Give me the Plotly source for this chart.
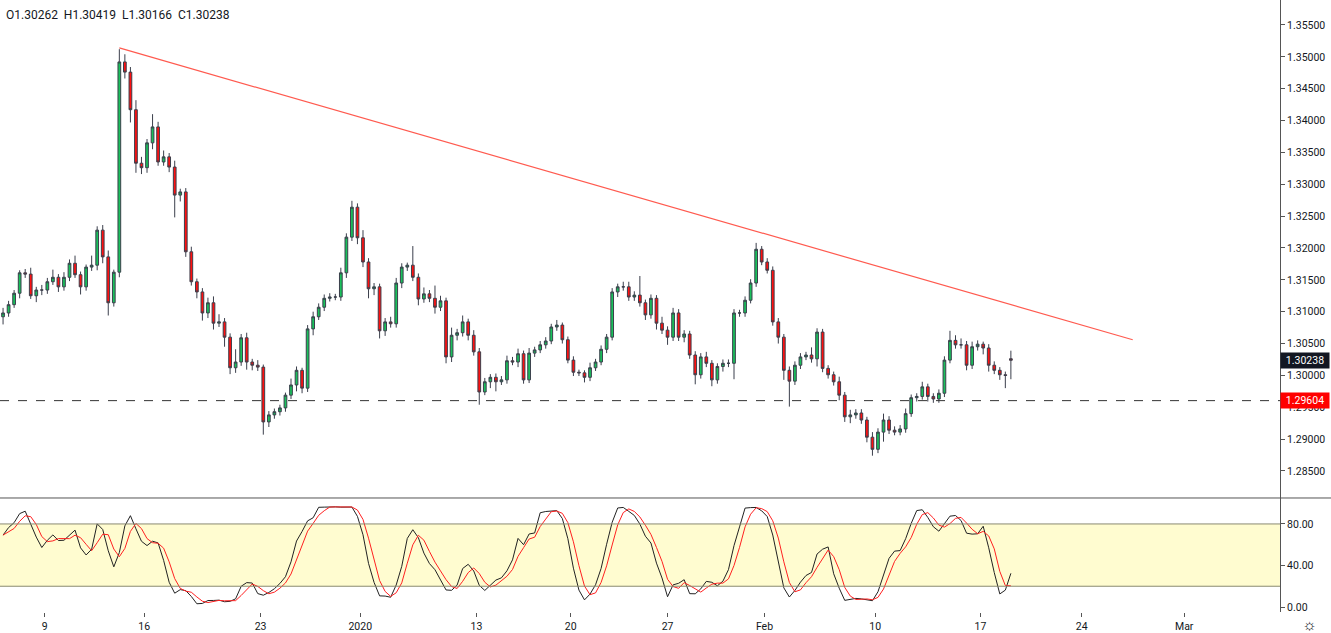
import numpy as np
import pandas as pd
import plotly.graph_objects as go

# 8h-ish candles
closes = [1.3098, 1.3111, 1.3129, 1.3161, 1.3159, 1.3125, 1.3134, 1.3134, 1.3147, 1.3154,
          1.3139, 1.3154, 1.3176, 1.3158, 1.3139, 1.3170, 1.3173, 1.3228, 1.3186, 1.3114,
          1.3162, 1.3492, 1.3476, 1.3417, 1.3333, 1.3326, 1.3365, 1.3390, 1.3335, 1.3343,
          1.3327, 1.3283, 1.3288, 1.3194, 1.3147, 1.3131, 1.3098, 1.3114, 1.3082, 1.3084,
          1.3060, 1.3012, 1.3021, 1.3059, 1.3021, 1.3016, 1.3013, 1.2927, 1.2938, 1.2943,
          1.2949, 1.2969, 1.2985, 1.3008, 1.2980, 1.3073, 1.3092, 1.3107, 1.3121, 1.3123,
          1.3123, 1.3161, 1.3217, 1.3264, 1.3216, 1.3178, 1.3136, 1.3139, 1.3070, 1.3084,
          1.3081, 1.3145, 1.3170, 1.3173, 1.3154, 1.3120, 1.3128, 1.3121, 1.3107, 1.3117,
          1.3029, 1.3063, 1.3067, 1.3084, 1.3063, 1.3037, 1.2974, 1.2990, 1.2997, 1.2990,
          1.2993, 1.3023, 1.3021, 1.3034, 1.2993, 1.3035, 1.3040, 1.3048, 1.3054, 1.3076,
          1.3079, 1.3056, 1.3024, 1.3005, 1.3004, 1.2997, 1.3012, 1.3021, 1.3041, 1.3060,
          1.3131, 1.3139, 1.3139, 1.3123, 1.3126, 1.3114, 1.3095, 1.3121, 1.3082, 1.3071,
          1.3060, 1.3098, 1.3060, 1.3065, 1.3032, 1.3001, 1.3029, 1.3019, 1.2993, 1.3014,
          1.3019, 1.3019, 1.3098, 1.3098, 1.3118, 1.3145, 1.3198, 1.3178, 1.3165, 1.3084,
          1.3060, 1.3008, 1.2991, 1.3016, 1.3029, 1.3032, 1.3026, 1.3068, 1.3011, 1.3001,
          1.2990, 1.2969, 1.2935, 1.2938, 1.2941, 1.2930, 1.2903, 1.2884, 1.2911, 1.2930,
          1.2914, 1.2911, 1.2916, 1.2940, 1.2965, 1.2967, 1.2982, 1.2967, 1.2963, 1.2972,
          1.3024, 1.3055, 1.3048, 1.3048, 1.3016, 1.3045, 1.3049, 1.3043, 1.3016, 1.3008,
          1.3001, 1.3000, 1.30238]

upper_wick_pips = [8, 6, 5, 4, 6, 10, 5, 8, 6, 12,
                   5, 8, 6, 12, 5, 4, 15, 6, 8, 10,
                   4, 20, 12, 8, 15, 10, 6, 20, 8, 10,
                   6, 10, 5, 6, 8, 5, 6, 8, 10, 12,
                   6, 6, 20, 6, 8, 5, 8, 4, 6, 5,
                   5, 4, 10, 6, 4, 6, 8, 6, 6, 6,
                   5, 8, 6, 10, 6, 12, 6, 6, 5, 6,
                   8, 8, 6, 4, 30, 6, 10, 6, 20, 8,
                   5, 12, 6, 10, 5, 8, 6, 6, 5, 6,
                   6, 8, 6, 8, 5, 8, 5, 6, 6, 5,
                   8, 4, 5, 6, 4, 4, 8, 5, 6, 5,
                   6, 5, 8, 8, 6, 30, 5, 6, 5, 10,
                   6, 8, 6, 6, 5, 6, 6, 8, 5, 5,
                   6, 6, 6, 5, 6, 6, 10, 5, 6, 6,
                   6, 5, 6, 6, 6, 5, 12, 6, 5, 5,
                   5, 8, 5, 8, 6, 6, 5, 8, 6, 10,
                   6, 6, 6, 8, 5, 5, 8, 5, 5, 6,
                   6, 15, 8, 10, 6, 8, 6, 4, 6, 6,
                   5, 5, 15]

lower_wick_pips = [12, 6, 5, 8, 6, 5, 10, 8, 6, 5,
                   8, 6, 6, 5, 12, 6, 6, 8, 10, 20,
                   6, 8, 10, 20, 15, 10, 8, 10, 6, 6,
                   8, 35, 10, 8, 6, 10, 12, 8, 10, 6,
                   15, 10, 8, 6, 12, 8, 6, 20, 8, 6,
                   6, 6, 6, 10, 8, 6, 10, 5, 6, 5,
                   5, 6, 8, 6, 10, 8, 15, 10, 12, 8,
                   6, 6, 8, 6, 6, 10, 6, 6, 10, 6,
                   10, 8, 8, 6, 8, 6, 20, 5, 10, 15,
                   5, 6, 5, 8, 6, 5, 6, 5, 6, 5,
                   6, 6, 5, 6, 5, 8, 6, 5, 5, 6,
                   5, 8, 6, 6, 6, 6, 8, 6, 10, 6,
                   12, 6, 6, 8, 6, 15, 6, 6, 10, 6,
                   8, 6, 25, 6, 6, 5, 6, 5, 5, 6,
                   10, 15, 40, 6, 6, 5, 6, 12, 6, 6,
                   6, 8, 8, 10, 6, 6, 8, 10, 6, 15,
                   6, 5, 5, 6, 5, 6, 5, 8, 6, 6,
                   6, 5, 6, 6, 8, 6, 6, 10, 10, 6,
                   8, 20, 6]

tick_labels = ["9", "16", "23", "2020", "13", "20", "27", "Feb", "10", "17", "24", "Mar"]
tick_index = [7.5, 25.5, 46.5, 64.5, 85.5, 102.5, 120, 137.5, 157.5, 176.5, 194.8, 213.3]
price_ticks = [1.285 + 0.005 * i for i in range(15)]

trend_x = [21, 204]
trend_y = [1.3514, 1.3056]
support_level = 1.29604
last_price = 1.30238

n = len(closes)
idx = np.arange(n)
c = np.array(closes)
o = np.concatenate([[1.3092], c[:-1]])
h = np.maximum(o, c) + np.array(upper_wick_pips[:n]) / 10000
l = np.minimum(o, c) - np.array(lower_wick_pips[:n]) / 10000
o[-1] = 1.30262

# stochastic 8,3,3 (coarser bars than the original)
df = pd.DataFrame({"h": h, "l": l, "c": c})
hh = df["h"].rolling(8, min_periods=1).max()
ll = df["l"].rolling(8, min_periods=1).min()
raw = 100 * (df["c"] - ll) / (hh - ll)
k = raw.rolling(3, min_periods=1).mean()
d = k.rolling(3, min_periods=1).mean()

fig = go.Figure()
fig.add_trace(go.Candlestick(
    x=idx, open=o, high=h, low=l, close=c,
    increasing=dict(line=dict(color="#3b3f4c", width=1), fillcolor="#19c15b"),
    decreasing=dict(line=dict(color="#3b3f4c", width=1), fillcolor="#ff1010"),
    whiskerwidth=0, showlegend=False, hoverinfo="skip"))
fig.add_trace(go.Scatter(x=trend_x, y=trend_y, mode="lines",
                         line=dict(color="#ff5a4f", width=1.2), showlegend=False))

# stochastic band
fig.add_shape(type="rect", xref="x2 domain", yref="y2", x0=0, x1=1, y0=20, y1=80,
              fillcolor="rgba(255,250,170,0.55)", line=dict(width=0), layer="below")
for lvl in [20, 80]:
    fig.add_shape(type="line", xref="x2 domain", yref="y2", x0=0, x1=1, y0=lvl, y1=lvl,
                  line=dict(color="#8a8a70", width=1))
fig.add_trace(go.Scatter(x=idx, y=k, xaxis="x2", yaxis="y2", mode="lines",
                         line=dict(color="#222222", width=1), showlegend=False))
fig.add_trace(go.Scatter(x=idx, y=d, xaxis="x2", yaxis="y2", mode="lines",
                         line=dict(color="#ff2020", width=1), showlegend=False))

fig.add_shape(type="line", xref="x domain", yref="y", x0=0, x1=1,
              y0=support_level, y1=support_level,
              line=dict(color="#333333", width=1, dash="dash"))
# panel separator
fig.add_shape(type="line", xref="paper", yref="paper", x0=0, x1=1.04, y0=0.1863, y1=0.1863,
              line=dict(color="#555555", width=1))

fig.add_annotation(xref="paper", yref="y", x=1.0, y=last_price, xanchor="left",
                   text="1.30238", showarrow=False, bgcolor="#131722", width=46,
                   font=dict(color="white", size=10.5), borderpad=1)
fig.add_annotation(xref="paper", yref="y", x=1.0, y=support_level, xanchor="left",
                   text="1.29604", showarrow=False, bgcolor="#ff0000", width=46,
                   font=dict(color="white", size=10.5), borderpad=1)
fig.add_annotation(xref="paper", yref="paper", x=0.003, y=1.0, xanchor="left", yanchor="top",
                   yshift=-6, text="O1.30262  H1.30419  L1.30166  C1.30238", showarrow=False,
                   font=dict(color="#131722", size=12))
fig.add_annotation(xref="paper", yref="paper", x=1.016, y=0.0, xanchor="left", yanchor="top",
                   yshift=-1, text="☼", showarrow=False, font=dict(color="#131722", size=16))

xr = [-0.55, 230.6]
fig.update_layout(
    width=1331, height=633,
    margin=dict(l=0, r=51, t=0, b=21, autoexpand=False),
    paper_bgcolor="white", plot_bgcolor="white",
    font=dict(family="Roboto", color="#131722", size=10.5),
    xaxis=dict(range=xr, domain=[0, 1], anchor="y", showticklabels=False,
               showgrid=False, zeroline=False, rangeslider=dict(visible=False)),
    yaxis=dict(domain=[0.1863, 1], side="right", range=[1.28076, 1.35892],
               tickvals=price_ticks, ticktext=[f"{p:.5f}" for p in price_ticks],
               showgrid=False, zeroline=False, showline=True, linecolor="#555555",
               ticks="outside", ticklen=4, tickcolor="#555555", automargin=False),
    xaxis2=dict(range=xr, domain=[0, 1], anchor="y2", tickvals=tick_index,
                ticktext=tick_labels, showgrid=False, zeroline=False, automargin=False,
                ticks="outside", ticklen=4, tickcolor="#555555"),
    yaxis2=dict(domain=[0, 0.1863], side="right", range=[-4.8, 105], anchor="x2",
                tickvals=[0, 40, 80], ticktext=["0.00", "40.00", "80.00"],
                showgrid=False, zeroline=False, automargin=False,
                showline=True, linecolor="#555555", ticks="outside", ticklen=4,
                tickcolor="#555555"),
)
fig.write_html("out.html", config={"displayModeBar": False},
               post_script="document.body.style.margin='0px';")
